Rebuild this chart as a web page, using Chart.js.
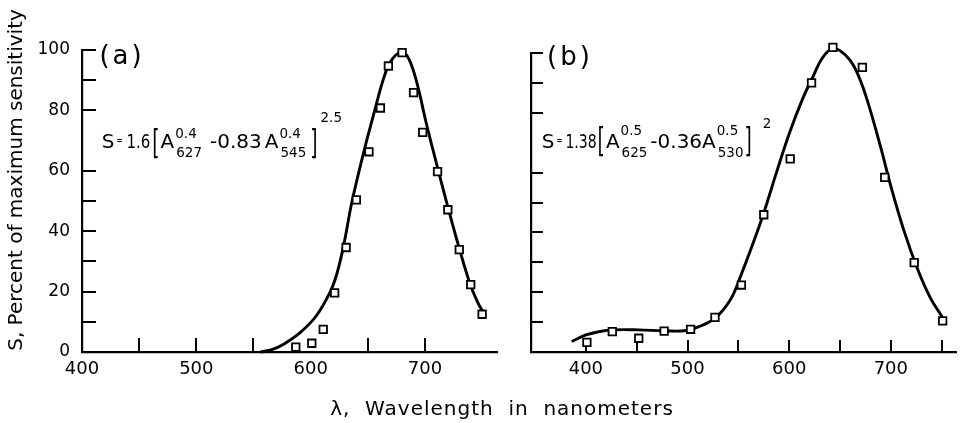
<!DOCTYPE html>
<html>
<head>
<meta charset="utf-8">
<script src="https://cdn.jsdelivr.net/npm/chart.js@4.4.1/dist/chart.umd.min.js"></script>
<style>
  body { margin: 0; background: #fff; }
  #wrap { position: relative; width: 964px; height: 423px; }
  canvas { position: absolute; top: 0; }
</style>
</head>
<body>
<div id="wrap">
  <canvas id="chartA" width="964" height="423" style="left:0"></canvas>
  <canvas id="chartB" width="454" height="423" style="left:510px"></canvas>
</div>
<script>
// panel (a) - measured points
const aPointX = [587, 601, 611, 621, 631, 640, 651, 661, 668, 680, 690, 698, 711, 720, 730, 740, 750];
const aPointY = [1.6, 2.9, 7.5, 19.6, 34.6, 50.4, 66.3, 80.8, 94.7, 99.1, 85.9, 72.7, 59.7, 47.1, 33.9, 22.3, 12.5];
// panel (a) - fitted curve
const aCurveX = [556, 566, 576, 591, 605, 617, 623, 629, 636, 646, 655, 665, 672, 680, 686, 693, 701, 710, 719, 728, 739, 746, 752];
const aCurveY = [0, 0.8, 2.5, 6.5, 12, 19.8, 26, 35.5, 49.5, 65.5, 78.5, 92, 97.3, 99.3, 97, 89, 76, 62.5, 49.5, 37, 23, 16.5, 12.5];

// panel (b) - measured points
const bPointX = [401, 426, 452, 477, 503, 527, 553, 575, 601, 622, 643, 672, 694, 723, 751];
const bPointY = [3.2, 6.8, 4.6, 7.0, 7.6, 11.6, 22.4, 45.9, 64.6, 90, 101.9, 95.2, 58.4, 29.9, 10.4];
// panel (b) - fitted curve
const bCurveX = [386, 400, 413, 426, 452, 477, 497, 510, 527, 542, 552, 573, 587, 600, 613, 624, 632, 642, 650, 660, 668, 677, 690, 700, 713, 726, 739, 751];
const bCurveY = [3.5, 5.7, 6.8, 7.4, 7.4, 7.1, 7.1, 8.3, 11.3, 17.4, 25.2, 44.5, 59.5, 73, 84.5, 92.5, 98, 101.5, 100.8, 97.5, 92.5, 84, 68.5, 55.5, 40.5, 28, 18, 11.5];

// ticks
const xTickLabels = [400, 500, 600, 700];
const aXTickMarks = [450, 500, 550, 650, 700];
const bXTickMarks = [400, 450, 500, 550, 600, 650, 700, 750];
const yTickMarks = [10, 20, 30, 40, 50, 60, 80, 90, 100];

const FONT = '"DejaVu Sans", "Liberation Sans", sans-serif';
const toXY = (xs, ys) => xs.map((x, i) => ({ x: x, y: ys[i] }));

function drawFormula(ctx, x, y, items) {
  let cx = x;
  ctx.textBaseline = 'alphabetic';
  ctx.textAlign = 'left';
  items.forEach(it => {
    cx += it.gap || 0;
    if (it.t !== undefined) {
      const sx = it.sx || 1;
      ctx.save();
      ctx.font = (it.size || 20) + 'px ' + FONT;
      ctx.translate(cx, y + (it.dy || 0));
      ctx.scale(sx, 1);
      ctx.fillText(it.t, 0, 0);
      cx += ctx.measureText(it.t).width * sx;
      ctx.restore();
    } else {
      ctx.font = (it.size || 13) + 'px ' + FONT;
      let w = 0;
      if (it.sup) { ctx.fillText(it.sup, cx, y + it.supDy); w = Math.max(w, ctx.measureText(it.sup).width); }
      if (it.sub) { ctx.fillText(it.sub, cx + 1, y + it.subDy); w = Math.max(w, ctx.measureText(it.sub).width + 1); }
      cx += w;
    }
  });
}

const inwardTicks = {
  id: 'inwardTicks',
  beforeDatasetsDraw(chart, args, opts) {
    const { ctx, scales: { x, y }, chartArea: a } = chart;
    ctx.save();
    ctx.strokeStyle = '#000';
    ctx.lineWidth = 2;
    ctx.beginPath();
    opts.xTicks.forEach(v => {
      const px = Math.round(x.getPixelForValue(v));
      ctx.moveTo(px, a.bottom);
      ctx.lineTo(px, a.bottom - opts.xLen);
    });
    opts.yTicks.forEach(v => {
      const py = Math.round(y.getPixelForValue(v));
      ctx.moveTo(a.left, py);
      ctx.lineTo(a.left + opts.yLen, py);
    });
    ctx.stroke();
    ctx.restore();
  }
};

const annotations = {
  id: 'annotations',
  afterDraw(chart, args, opts) {
    const ctx = chart.ctx;
    ctx.save();
    ctx.fillStyle = '#000';
    // panel letter
    ctx.font = '26px ' + FONT;
    ctx.textAlign = 'center';
    ctx.textBaseline = 'middle';
    if ('letterSpacing' in ctx) ctx.letterSpacing = '3px';
    ctx.fillText(opts.letter, opts.letterX, opts.letterY);
    if ('letterSpacing' in ctx) ctx.letterSpacing = '0px';
    drawFormula(ctx, opts.eqX, opts.eqY, opts.formula);
    if (opts.yTitle) {
      ctx.save();
      ctx.font = '20px ' + FONT;
      ctx.textAlign = 'center';
      ctx.textBaseline = 'middle';
      ctx.translate(16.5, 180);
      ctx.rotate(-Math.PI / 2);
      ctx.fillText(opts.yTitle, 0, 0);
      ctx.restore();
    }
    if (opts.xTitle) {
      ctx.font = '20px ' + FONT;
      ctx.textAlign = 'center';
      ctx.textBaseline = 'middle';
      if ('letterSpacing' in ctx) ctx.letterSpacing = '1px';
      ctx.fillText(opts.xTitle, 502, 410);
    }
    ctx.restore();
  }
};

function makePanel(canvasId, cfg) {
  return new Chart(document.getElementById(canvasId), {
    type: 'scatter',
    data: {
      datasets: [
        {
          data: toXY(cfg.pointX, cfg.pointY),
          pointStyle: 'rect',
          pointRadius: 5.3,
          pointBorderWidth: 1.8,
          pointBorderColor: '#000',
          pointBackgroundColor: '#fff',
          showLine: false,
          clip: false
        },
        {
          data: toXY(cfg.curveX, cfg.curveY),
          showLine: true,
          borderColor: '#000',
          borderWidth: 2.9,
          pointRadius: 0,
          tension: 0.4,
          clip: false
        }
      ]
    },
    options: {
      responsive: false,
      animation: false,
      events: [],
      layout: { padding: cfg.padding },
      plugins: {
        legend: { display: false },
        tooltip: { enabled: false },
        inwardTicks: { xTicks: cfg.xTicks, yTicks: yTickMarks, xLen: cfg.tickLen, yLen: cfg.tickLen },
        annotations: cfg.notes
      },
      scales: {
        x: {
          type: 'linear',
          min: cfg.xMin,
          max: cfg.xMax,
          afterBuildTicks: s => { s.ticks = xTickLabels.map(v => ({ value: v })); },
          afterFit: s => { s.height = 71; },
          grid: { display: true, drawOnChartArea: false, drawTicks: false },
          border: { display: true, color: '#000', width: 2.2 },
          ticks: { color: '#000', font: { family: FONT, size: 18 }, padding: 7, maxRotation: 0 }
        },
        y: {
          min: 0,
          max: 100,
          afterFit: s => { s.width = cfg.yWidth; },
          grid: { display: true, drawOnChartArea: false, drawTicks: false },
          border: { display: true, color: '#000', width: 2.2 },
          ticks: { display: cfg.yLabels, stepSize: 20, color: '#000', font: { family: FONT, size: 17 }, padding: 12 }
        }
      }
    },
    plugins: [inwardTicks, annotations]
  });
}

const formulaA = [
  { t: 'S', size: 20 },
  { t: '=', size: 12, sx: 0.6, dy: -4.5, gap: 2 },
  { t: '1.6', size: 20, sx: 0.75, gap: 4 },
  { t: '[', size: 34, sx: 0.55, dy: 5.2, gap: 2 },
  { t: 'A', size: 20, gap: 1 },
  { sup: '0.4', sub: '627', size: 13.5, supDy: -10.3, subDy: 8.4, gap: 1 },
  { t: '-0.83', size: 20, gap: 8 },
  { t: 'A', size: 20, gap: 3 },
  { sup: '0.4', sub: '545', size: 13.5, supDy: -10.3, subDy: 8.4, gap: 1 },
  { t: ']', size: 34, sx: 0.55, dy: 5.2, gap: 4 },
  { t: '2.5', size: 13.5, dy: -26.6, gap: 3 }
];

const formulaB = [
  { t: 'S', size: 20 },
  { t: '=', size: 12, sx: 0.6, dy: -4.5, gap: 2 },
  { t: '1.38', size: 20, sx: 0.7, gap: 3 },
  { t: '[', size: 34, sx: 0.55, dy: 3.9, gap: 1 },
  { t: 'A', size: 20, gap: 1 },
  { sup: '0.5', sub: '625', size: 13.5, supDy: -13.3, subDy: 8.7, gap: 1 },
  { t: '-0.36', size: 20, gap: 3 },
  { t: 'A', size: 20, gap: 0 },
  { sup: '0.5', sub: '530', size: 13.5, supDy: -13.3, subDy: 8.7, gap: 1 },
  { t: ']', size: 34, sx: 0.55, dy: 3.9, gap: 1 },
  { t: '2', size: 13.5, dy: -20.3, gap: 11 }
];

makePanel('chartA', {
  pointX: aPointX, pointY: aPointY, curveX: aCurveX, curveY: aCurveY,
  xMin: 400, xMax: 763, xTicks: aXTickMarks, tickLen: 14,
  padding: { left: 0, top: 50, right: 467, bottom: 0 }, yWidth: 82, yLabels: true,
  notes: {
    letter: '(a)', letterX: 122, letterY: 57,
    eqX: 101.7, eqY: 148.3, formula: formulaA,
    yTitle: 'S, Percent of maximum sensitivity',
    xTitle: 'λ,  Wavelength  in  nanometers'
  }
});

makePanel('chartB', {
  pointX: bPointX, pointY: bPointY, curveX: bCurveX, curveY: bCurveY,
  xMin: 346, xMax: 765, xTicks: bXTickMarks, tickLen: 12,
  padding: { left: 0, top: 53, right: 0, bottom: 0 }, yWidth: 21, yLabels: false,
  notes: {
    letter: '(b)', letterX: 60, letterY: 58,
    eqX: 31.7, eqY: 148.3, formula: formulaB
  }
});
</script>
</body>
</html>
